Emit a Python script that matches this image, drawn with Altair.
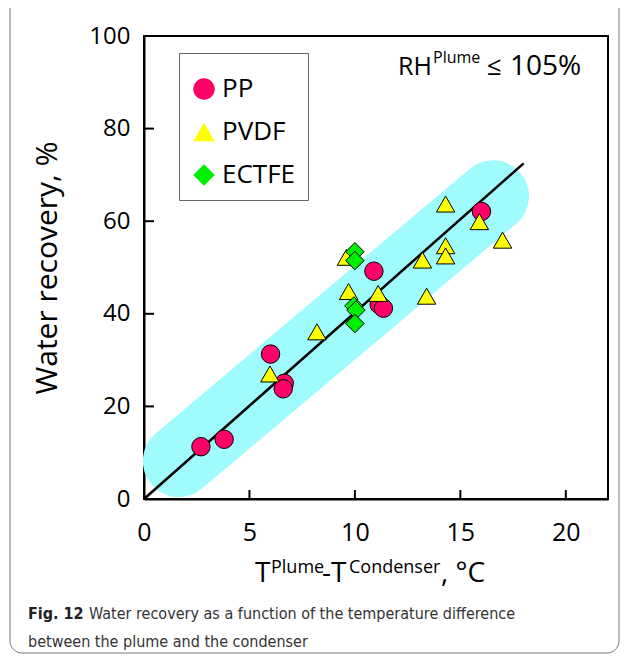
import altair as alt
import pandas as pd

FONT = "Open Sans"
CAP_FONT = "Liberation Sans Narrow, DejaVu Sans Condensed, Open Sans"

materials = ["PP", "PVDF", "ECTFE"]
colors = ["#FF0066", "#FFFF00", "#00EE00"]
shapes = ["circle", "triangle-up", "diamond"]

pp_x = [2.7, 3.8, 6.0, 6.65, 6.6, 10.9, 11.15, 11.35, 16.0]
pp_y = [11.3, 12.9, 31.3, 25.0, 23.8, 49.2, 42.0, 41.2, 62.1]
pvdf_x = [5.97, 8.2, 9.6, 9.7, 11.1, 13.2, 13.4, 14.3, 14.3, 14.3, 15.9, 17.0]
pvdf_y = [27.0, 36.1, 52.2, 44.8, 44.4, 51.6, 43.8, 63.7, 54.7, 52.5, 59.9, 55.9]
ectfe_x = [10.0, 10.0, 9.95, 10.05, 10.0]
ectfe_y = [53.4, 51.5, 41.7, 40.8, 37.9]

fit_x = [0, 18]
fit_y = [0, 72.5]
band_x = [1.65, 16.55]
band_y = [8.2, 65.4]

x_ticks = [0, 5, 10, 15, 20]
y_ticks = [0, 20, 40, 60, 80, 100]
x_domain = [0, 22]
y_domain = [0, 100]

rows = []
for m, xs_, ys_ in [("PP", pp_x, pp_y), ("PVDF", pvdf_x, pvdf_y), ("ECTFE", ectfe_x, ectfe_y)]:
    for a, b in zip(xs_, ys_):
        rows.append({"x": a, "y": b, "material": m, "ord": materials.index(m)})
df = pd.DataFrame(rows)

xs = alt.Scale(domain=x_domain, nice=False, zero=False)
ys = alt.Scale(domain=y_domain, nice=False, zero=False)

x_axis = alt.Axis(
    values=x_ticks, title=None, grid=False, ticks=False, labelFontSize=25,
    labelPadding=21, domainColor="black", domainWidth=2, labelColor="black",
    labelFont=FONT, labelFlush=False)
y_axis = alt.Axis(
    values=y_ticks, title=None, grid=False, ticks=False, labelFontSize=24,
    labelPadding=14, domainColor="black", domainWidth=2, labelColor="black",
    labelFont=FONT, labelFlush=False)

W, H = 464, 463


def X(field):
    return alt.X(field, scale=xs, axis=x_axis)


def Y(field):
    return alt.Y(field, scale=ys, axis=y_axis)


border = alt.Chart(pd.DataFrame({"a": [0]})).mark_rect(
    fill="white", fillOpacity=0, stroke="#777777", strokeWidth=1, cornerRadius=12
).encode(x=alt.value(-134), x2=alt.value(475), y=alt.value(-60), y2=alt.value(617))

band = alt.Chart(pd.DataFrame({"x": band_x, "y": band_y})).mark_line(
    strokeWidth=72, strokeCap="round", color="#A0FCFC"
).encode(x=X("x:Q"), y=Y("y:Q"))

fit = alt.Chart(pd.DataFrame({"x": fit_x, "y": fit_y})).mark_line(
    strokeWidth=2.5, color="black"
).encode(x=X("x:Q"), y=Y("y:Q"))

legend = alt.Legend(
    orient="none", legendX=35, legendY=17, title=" ", titleFontSize=6, titlePadding=5,
    labelFontSize=26, labelFont=FONT, labelColor="black",
    symbolSize=460, symbolStrokeColor="black", symbolStrokeWidth=1, symbolOpacity=1,
    strokeColor="#666666", padding=12, rowPadding=17, labelOffset=5,
)

points = alt.Chart(df).mark_point(
    filled=True, size=340, stroke="black", strokeWidth=1, opacity=1
).encode(
    x=X("x:Q"),
    y=Y("y:Q"),
    fill=alt.Fill("material:N", scale=alt.Scale(domain=materials, range=colors), legend=legend),
    shape=alt.Shape("material:N", scale=alt.Scale(domain=materials, range=shapes), legend=legend),
    order=alt.Order("ord:Q"),
)

xt = alt.Chart(pd.DataFrame({"t": x_ticks})).mark_rule(color="black", strokeWidth=2).encode(
    x=X("t:Q"), y=alt.value(H), y2=alt.value(H - 9))
yt = alt.Chart(pd.DataFrame({"t": y_ticks})).mark_rule(color="black", strokeWidth=2).encode(
    y=Y("t:Q"), x=alt.value(0), x2=alt.value(10))


def label(txt, x, y, size, weight="normal", align="left", angle=0, color="black", font=FONT):
    kw = dict(align=align, baseline="alphabetic", fontSize=size, font=font,
              fontWeight=weight, color=color)
    if angle:
        kw["angle"] = angle
    return alt.Chart(pd.DataFrame({"t": [txt]})).mark_text(**kw).encode(
        text="t:N", x=alt.value(x), y=alt.value(y))


texts = [
    # y title
    label("Water recovery, %", -87, 232, 30, align="center", angle=270),
    # x title
    label("T", 111, 546, 28),
    label("Plume", 127, 537, 18),
    label("-T", 178, 546, 28),
    label("Condenser", 205, 537, 18),
    label(", \u00b0C", 297, 546, 28),
    # annotation
    label("RH", 254, 39, 25),
    label("Plume", 289, 27, 16),
    label("\u2264", 343, 39, 26),
    label("105%", 366, 39, 28),
    # caption
    label("Fig. 12", -116, 583, 16, weight="bold", font=CAP_FONT, color="#222222"),
    label("Water recovery as a function of the temperature difference", -55, 583, 16,
          font=CAP_FONT, color="#333333"),
    label("between the plume and the condenser", -116, 611, 16, font=CAP_FONT, color="#333333"),
]

chart = alt.layer(border, band, fit, points, xt, yt, *texts).properties(
    width=W, height=H,
    autosize=alt.AutoSizeParams(type="none"),
    padding={"left": 136, "top": 28, "right": 13, "bottom": 155},
    background="white",
).configure_view(stroke="black", strokeWidth=2)

chart.save("out.html", embed_options={"renderer": "svg", "actions": False})
